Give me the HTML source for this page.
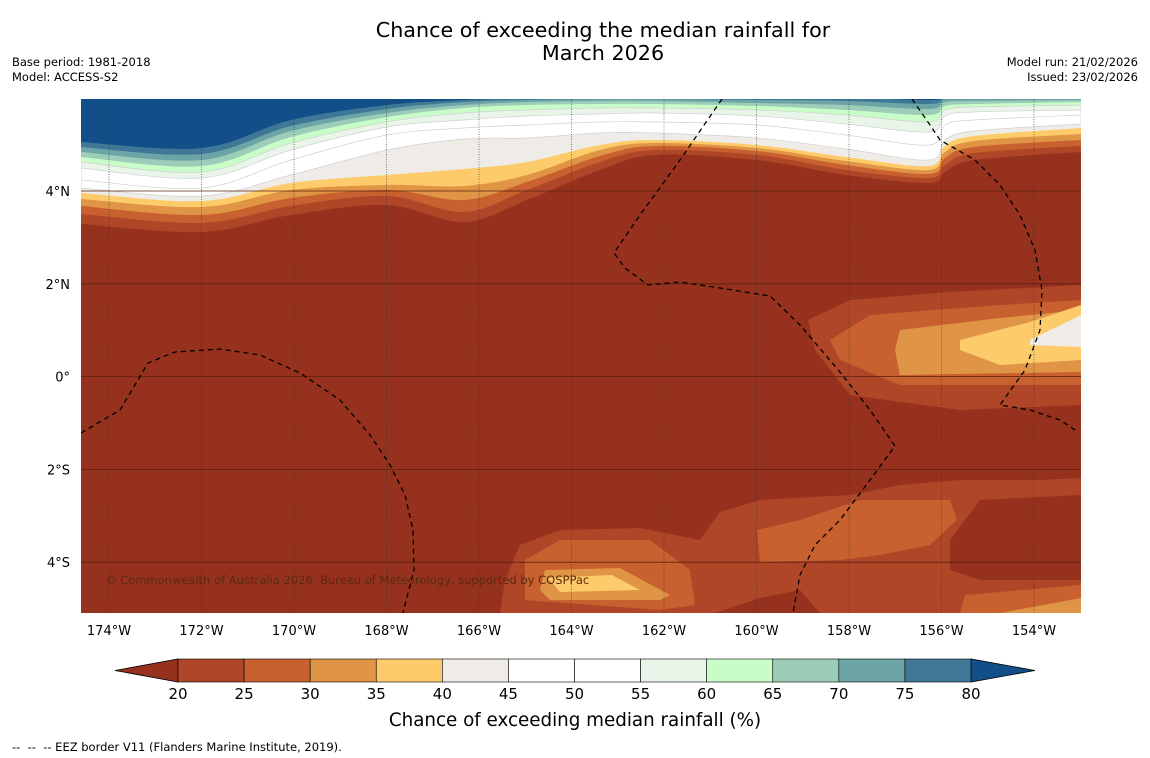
<!DOCTYPE html>
<html><head><meta charset="utf-8"><style>
body{margin:0;width:1150px;height:758px;background:#fff;font-family:"DejaVu Sans","Liberation Sans",sans-serif;overflow:hidden;position:relative}
.t{position:absolute;white-space:nowrap}
</style></head><body>
<div class="t" style="left:28px;width:1150px;top:19px;text-align:center;font-size:20.7px;line-height:23px">Chance of exceeding the median rainfall for<br>March 2026</div>
<div class="t" style="left:12px;top:55px;font-size:11.5px;line-height:15px">Base period: 1981-2018<br>Model: ACCESS-S2</div>
<div class="t" style="right:12px;top:55px;font-size:11.5px;line-height:15px;text-align:right">Model run: 21/02/2026<br>Issued: 23/02/2026</div>
<div class="t" style="left:12px;top:740px;font-size:11.5px">-- &nbsp;-- &nbsp;-- EEZ border V11 (Flanders Marine Institute, 2019).</div>
<svg id="map" width="1150" height="758" style="position:absolute;left:0;top:0" font-family="DejaVu Sans, Liberation Sans, sans-serif"></svg>
<script>
const colors=["#b04628","#c8602f","#e09445","#fecb6a","#efebe7","#ffffff","#ffffff","#eaf5ea","#c8fdc8","#9ccdb8","#6da4a6","#3f7896","#124e87"];
const below="#96311e";
const levels=[20,25,30,35,40,45,50,55,60,65,70,75,80];
const xs=[81,202,291,387,464,527,600,655,757,846,929,945,974,1081];
const bounds=[
[224,232,215,205,222,200,170,155,160,175,183,172,160,152],
[214,223,206,196,212,190,162,150,155,170,178,165,153,146],
[206,215,198,190,200,182,156,146,151,165,174,158,147,140],
[199,207,190,185,186,175,150,143,148,161,170,152,141,134],
[193,201,183,175,169,162,145,140,145,157,166,146,136,128],
[188,196,175,150,139,138,133,133,138,149,160,140,131,124],
[180,188,160,135,128,125,122,122,125,135,145,125,120,115],
[168,178,150,127,120,116,114,113,116,124,132,116,112,110],
[162,172,143,122,113,110,108,108,110,115,122,110,107,105],
[157,166,137,117,108,105,104,104,106,110,115,106,104,102],
[152,160,131,113,105,102,101,101,103,105,109,102,101,100],
[147,154,126,109,102,100,99,99,100,101,104,99,99,99],
[142,148,120,105,100,98,98,98,98,98,100,98,98,98]];
const lonTicks=["174°W","172°W","170°W","168°W","166°W","164°W","162°W","160°W","158°W","156°W","154°W"];
const latTicks=["4°N","2°N","0°","2°S","4°S"];
const NS="http://www.w3.org/2000/svg";
const svg=document.getElementById('map');
function mk(t,a,p){const e=document.createElementNS(NS,t);for(const k in a)e.setAttribute(k,a[k]);(p||svg).appendChild(e);return e;}
const lonX=i=>109+i*92.5;
const latY=i=>191+i*92.8;
const defs=mk('defs',{});const cp=mk('clipPath',{id:'c'},defs);mk('rect',{x:81,y:99,width:1000,height:514},cp);
const g=mk('g',{'clip-path':'url(#c)'});
let r=mk('rect',{x:81,y:99,width:1000,height:514,fill:below},g);


function cr(pts){let d='M'+pts[0][0]+','+pts[0][1];for(let i=0;i<pts.length-1;i++){const p0=pts[Math.max(0,i-1)],p1=pts[i],p2=pts[i+1],p3=pts[Math.min(pts.length-1,i+2)];
 const c1=[p1[0]+(p2[0]-p0[0])/6,p1[1]+(p2[1]-p0[1])/6],c2=[p2[0]-(p3[0]-p1[0])/6,p2[1]-(p3[1]-p1[1])/6];
 d+=' C'+c1[0].toFixed(1)+','+c1[1].toFixed(1)+' '+c2[0].toFixed(1)+','+c2[1].toFixed(1)+' '+p2[0]+','+p2[1];}return d;}
function lin(pts){return 'M'+pts.map(p=>p[0]+','+p[1]).join(' L');}
bounds.forEach((b,k)=>{
 let pts=[];xs.forEach((x,i)=>pts.push([x,b[i]]));
 const d=cr(pts)+' L1081,90 L81,90 Z';
 const p=mk('path',{d:d,fill:colors[k],stroke:(k>=5&&k<=8)?'#d0d0d0':'none','stroke-width':0.7},g);
 
 
});
const blobs=[
[0,[[808,320],[850,300],[950,292],[1081,285],[1081,405],[960,410],[850,395],[815,350]]],
[1,[[830,340],[870,315],[1000,305],[1081,300],[1081,385],[900,385],[840,360]]],
[2,[[900,330],[1000,318],[1081,310],[1081,372],[900,375],[895,350]]],
[3,[[960,340],[1030,322],[1081,305],[1081,360],[1000,365],[960,350]]],
[4,[[1030,340],[1081,315],[1081,347],[1030,345]]],
[0,[[500,613],[505,580],[520,545],[560,530],[640,528],[700,540],[720,512],[760,500],[850,495],[900,485],[960,480],[1040,480],[1081,478],[1081,613]]],
[-1,[[950,540],[980,500],[1081,495],[1081,580],[980,580],[950,570]]],
[-1,[[715,613],[760,598],[800,590],[820,613]]],
[1,[[525,600],[525,560],[560,540],[650,540],[690,570],[695,605],[660,610]]],
[1,[[757,530],[800,520],[860,500],[950,500],[957,520],[930,545],[880,555],[840,560],[760,562]]],
[1,[[960,613],[965,595],[1081,585],[1081,613]]],
[2,[[540,590],[545,570],[620,568],[670,595],[660,600],[550,600]]],
[2,[[1000,613],[1081,598],[1081,613]]],
[3,[[548,578],[612,575],[640,590],[560,592]]]];
blobs.forEach((b,i)=>{const p=mk('path',{d:lin(b[1])+'Z',fill:b[0]<0?below:colors[b[0]],'stroke-linejoin':'round'},g);
 
 });
lonTicks.forEach((t,i)=>{const l=mk('line',{x1:lonX(i),x2:lonX(i),y1:99,y2:613,stroke:'#333','stroke-width':0.6,'stroke-dasharray':'1,1.5'},g);
 
 const tx=mk('text',{x:lonX(i),y:635,'font-size':13,'text-anchor':'middle'});tx.textContent=t;
 });
latTicks.forEach((t,i)=>{const l=mk('line',{x1:81,x2:1081,y1:latY(i),y2:latY(i),stroke:'#5a2010','stroke-width':0.8},g);
 
 const tx=mk('text',{x:70,y:latY(i)+5,'font-size':13,'text-anchor':'end'});tx.textContent=t;
 });
const eez=[
[[81,433],[120,410],[148,363],[175,352],[220,349],[260,355],[300,373],[340,400],[370,435],[390,465],[405,495],[413,530],[414,570],[405,605],[403,613]],
[[722,99],[680,160],[640,215],[614,253],[625,268],[648,285],[680,282],[720,288],[770,296],[800,325],[840,372],[870,410],[895,446],[870,480],[840,520],[815,545],[800,575],[793,613]],
[[912,99],[930,125],[940,140],[975,160],[1000,185],[1020,215],[1035,250],[1042,290],[1040,330],[1025,370],[1000,405],[1030,410],[1060,420],[1078,432]]];
eez.forEach(e=>{const p=mk('path',{d:lin(e),fill:'none',stroke:'#000','stroke-width':1.3,'stroke-dasharray':'5,4'},g);
 });
const crt=mk('text',{x:105,y:584,'font-size':11.5,fill:'#5a2a10'},g);crt.textContent='© Commonwealth of Australia 2026, Bureau of Meteorology, supported by COSPPac';

const cb=mk('g',{});
const cx=v=>178+(v-20)*(971-178)/60;
mk('polygon',{points:'115,670.5 178,659 178,682',fill:below,stroke:'#000','stroke-width':0.8},cb);
mk('polygon',{points:'1035,670.5 971,659 971,682',fill:colors[12],stroke:'#000','stroke-width':0.8},cb);
for(let k=0;k<12;k++){const rr=mk('rect',{x:cx(levels[k]),y:659,width:cx(levels[k+1])-cx(levels[k]),height:23,fill:colors[k],stroke:'#000','stroke-width':0.6},cb);
 }
levels.forEach(v=>{const tx=mk('text',{x:cx(v),y:699,'font-size':15,'text-anchor':'middle'},cb);tx.textContent=v;});
const ct=mk('text',{x:575,y:726,'font-size':18.3,'text-anchor':'middle'});ct.textContent='Chance of exceeding median rainfall (%)';

</script>
</body></html>
